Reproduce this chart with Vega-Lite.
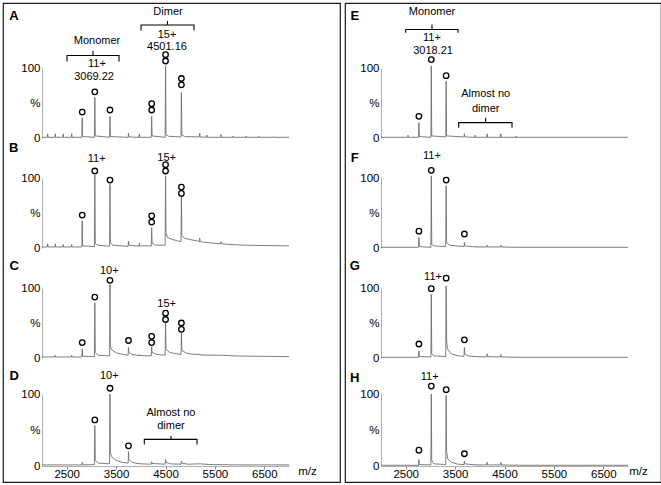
{
"$schema": "https://vega.github.io/schema/vega-lite/v6.json",
"padding": {"left": 2, "top": 2, "right": 0, "bottom": 0},
"data": {"values": [
{"p":"A","k":"s","mz":2000,"v":1},{"p":"A","k":"s","mz":2108,"v":1},{"p":"A","k":"s","mz":2115,"v":6},{"p":"A","k":"s","mz":2122,"v":1},{"p":"A","k":"s","mz":2262,"v":1},{"p":"A","k":"s","mz":2269,"v":6},{"p":"A","k":"s","mz":2276,"v":1},{"p":"A","k":"s","mz":2424,"v":1},{"p":"A","k":"s","mz":2431,"v":6},{"p":"A","k":"s","mz":2438,"v":1},{"p":"A","k":"s","mz":2594,"v":1},{"p":"A","k":"s","mz":2601,"v":6},{"p":"A","k":"s","mz":2608,"v":1},{"p":"A","k":"s","mz":2806,"v":1},{"p":"A","k":"s","mz":2814,"v":29},{"p":"A","k":"s","mz":2822,"v":2},{"p":"A","k":"s","mz":3061,"v":1},{"p":"A","k":"s","mz":3069,"v":58},{"p":"A","k":"s","mz":3078,"v":3},{"p":"A","k":"s","mz":3368,"v":1},{"p":"A","k":"s","mz":3376,"v":31},{"p":"A","k":"s","mz":3385,"v":2},{"p":"A","k":"s","mz":3744,"v":1},{"p":"A","k":"s","mz":3751,"v":7},{"p":"A","k":"s","mz":3758,"v":1.5},{"p":"A","k":"s","mz":3964,"v":1},{"p":"A","k":"s","mz":3971,"v":6},{"p":"A","k":"s","mz":3978,"v":1},{"p":"A","k":"s","mz":4212,"v":1},{"p":"A","k":"s","mz":4220,"v":31},{"p":"A","k":"s","mz":4229,"v":3},{"p":"A","k":"s","mz":4493,"v":1},{"p":"A","k":"s","mz":4501,"v":103},{"p":"A","k":"s","mz":4510,"v":5},{"p":"A","k":"s","mz":4560,"v":2.5},{"p":"A","k":"s","mz":4814,"v":1.5},{"p":"A","k":"s","mz":4822,"v":65},{"p":"A","k":"s","mz":4831,"v":4},{"p":"A","k":"s","mz":4900,"v":2},{"p":"A","k":"s","mz":5186,"v":1.5},{"p":"A","k":"s","mz":5193,"v":7},{"p":"A","k":"s","mz":5200,"v":1.5},{"p":"A","k":"s","mz":5333,"v":1},{"p":"A","k":"s","mz":5340,"v":4},{"p":"A","k":"s","mz":5347,"v":1},{"p":"A","k":"s","mz":5619,"v":1},{"p":"A","k":"s","mz":5626,"v":5},{"p":"A","k":"s","mz":5633,"v":1},{"p":"A","k":"s","mz":5859,"v":1},{"p":"A","k":"s","mz":5866,"v":3},{"p":"A","k":"s","mz":5873,"v":1},{"p":"A","k":"s","mz":6130,"v":1},{"p":"A","k":"s","mz":6137,"v":3},{"p":"A","k":"s","mz":6144,"v":1},{"p":"A","k":"s","mz":6386,"v":1},{"p":"A","k":"s","mz":6393,"v":2.5},{"p":"A","k":"s","mz":6400,"v":1},{"p":"A","k":"s","mz":6653,"v":1},{"p":"A","k":"s","mz":6660,"v":2},{"p":"A","k":"s","mz":6667,"v":1},{"p":"A","k":"s","mz":7000,"v":1},
{"p":"B","k":"s","mz":2000,"v":1.5},{"p":"B","k":"s","mz":2108,"v":1.5},{"p":"B","k":"s","mz":2115,"v":6},{"p":"B","k":"s","mz":2122,"v":1.5},{"p":"B","k":"s","mz":2262,"v":1.5},{"p":"B","k":"s","mz":2269,"v":6},{"p":"B","k":"s","mz":2276,"v":1.5},{"p":"B","k":"s","mz":2424,"v":1.5},{"p":"B","k":"s","mz":2431,"v":5},{"p":"B","k":"s","mz":2438,"v":1.5},{"p":"B","k":"s","mz":2594,"v":1.5},{"p":"B","k":"s","mz":2601,"v":5},{"p":"B","k":"s","mz":2608,"v":1.5},{"p":"B","k":"s","mz":2806,"v":1.5},{"p":"B","k":"s","mz":2814,"v":39},{"p":"B","k":"s","mz":2822,"v":3},{"p":"B","k":"s","mz":3061,"v":2},{"p":"B","k":"s","mz":3069,"v":104},{"p":"B","k":"s","mz":3078,"v":7},{"p":"B","k":"s","mz":3120,"v":4},{"p":"B","k":"s","mz":3368,"v":2.5},{"p":"B","k":"s","mz":3376,"v":91},{"p":"B","k":"s","mz":3385,"v":8},{"p":"B","k":"s","mz":3430,"v":4},{"p":"B","k":"s","mz":3744,"v":2.5},{"p":"B","k":"s","mz":3751,"v":10},{"p":"B","k":"s","mz":3758,"v":4},{"p":"B","k":"s","mz":3964,"v":2.5},{"p":"B","k":"s","mz":3971,"v":7},{"p":"B","k":"s","mz":3978,"v":3},{"p":"B","k":"s","mz":4212,"v":3},{"p":"B","k":"s","mz":4220,"v":29},{"p":"B","k":"s","mz":4229,"v":7},{"p":"B","k":"s","mz":4300,"v":4},{"p":"B","k":"s","mz":4493,"v":4},{"p":"B","k":"s","mz":4501,"v":103},{"p":"B","k":"s","mz":4510,"v":22},{"p":"B","k":"s","mz":4540,"v":15},{"p":"B","k":"s","mz":4650,"v":12},{"p":"B","k":"s","mz":4760,"v":10},{"p":"B","k":"s","mz":4814,"v":9},{"p":"B","k":"s","mz":4822,"v":74},{"p":"B","k":"s","mz":4831,"v":18},{"p":"B","k":"s","mz":4880,"v":14},{"p":"B","k":"s","mz":5000,"v":12},{"p":"B","k":"s","mz":5150,"v":10},{"p":"B","k":"s","mz":5186,"v":9},{"p":"B","k":"s","mz":5193,"v":14},{"p":"B","k":"s","mz":5200,"v":9},{"p":"B","k":"s","mz":5300,"v":8},{"p":"B","k":"s","mz":5450,"v":7},{"p":"B","k":"s","mz":5619,"v":6},{"p":"B","k":"s","mz":5626,"v":9},{"p":"B","k":"s","mz":5633,"v":6},{"p":"B","k":"s","mz":5800,"v":5},{"p":"B","k":"s","mz":6100,"v":4},{"p":"B","k":"s","mz":6500,"v":3.5},{"p":"B","k":"s","mz":7000,"v":3},
{"p":"C","k":"s","mz":2000,"v":1.5},{"p":"C","k":"s","mz":2262,"v":1.5},{"p":"C","k":"s","mz":2269,"v":4},{"p":"C","k":"s","mz":2276,"v":1.5},{"p":"C","k":"s","mz":2594,"v":1.5},{"p":"C","k":"s","mz":2601,"v":4},{"p":"C","k":"s","mz":2608,"v":1.5},{"p":"C","k":"s","mz":2806,"v":1.5},{"p":"C","k":"s","mz":2814,"v":13},{"p":"C","k":"s","mz":2822,"v":2.5},{"p":"C","k":"s","mz":3061,"v":2},{"p":"C","k":"s","mz":3069,"v":79},{"p":"C","k":"s","mz":3078,"v":8},{"p":"C","k":"s","mz":3130,"v":4},{"p":"C","k":"s","mz":3368,"v":3},{"p":"C","k":"s","mz":3376,"v":105},{"p":"C","k":"s","mz":3385,"v":16},{"p":"C","k":"s","mz":3420,"v":11},{"p":"C","k":"s","mz":3520,"v":7},{"p":"C","k":"s","mz":3650,"v":5},{"p":"C","k":"s","mz":3744,"v":4},{"p":"C","k":"s","mz":3751,"v":15},{"p":"C","k":"s","mz":3758,"v":8},{"p":"C","k":"s","mz":3820,"v":5},{"p":"C","k":"s","mz":3964,"v":3.5},{"p":"C","k":"s","mz":3971,"v":5},{"p":"C","k":"s","mz":3978,"v":3.5},{"p":"C","k":"s","mz":4212,"v":3},{"p":"C","k":"s","mz":4220,"v":16},{"p":"C","k":"s","mz":4229,"v":8},{"p":"C","k":"s","mz":4320,"v":5},{"p":"C","k":"s","mz":4493,"v":4},{"p":"C","k":"s","mz":4501,"v":50},{"p":"C","k":"s","mz":4510,"v":13},{"p":"C","k":"s","mz":4580,"v":8},{"p":"C","k":"s","mz":4720,"v":6},{"p":"C","k":"s","mz":4814,"v":5},{"p":"C","k":"s","mz":4822,"v":36},{"p":"C","k":"s","mz":4831,"v":11},{"p":"C","k":"s","mz":4920,"v":7},{"p":"C","k":"s","mz":5050,"v":5.5},{"p":"C","k":"s","mz":5186,"v":5},{"p":"C","k":"s","mz":5193,"v":6},{"p":"C","k":"s","mz":5200,"v":4.5},{"p":"C","k":"s","mz":5400,"v":4},{"p":"C","k":"s","mz":5626,"v":4},{"p":"C","k":"s","mz":5900,"v":3},{"p":"C","k":"s","mz":6300,"v":2.5},{"p":"C","k":"s","mz":7000,"v":2},
{"p":"D","k":"s","mz":2000,"v":1.5},{"p":"D","k":"s","mz":2806,"v":1.5},{"p":"D","k":"s","mz":2814,"v":5},{"p":"D","k":"s","mz":2822,"v":1.5},{"p":"D","k":"s","mz":3061,"v":2},{"p":"D","k":"s","mz":3069,"v":56},{"p":"D","k":"s","mz":3078,"v":8},{"p":"D","k":"s","mz":3140,"v":4},{"p":"D","k":"s","mz":3368,"v":3},{"p":"D","k":"s","mz":3376,"v":100},{"p":"D","k":"s","mz":3385,"v":18},{"p":"D","k":"s","mz":3420,"v":12},{"p":"D","k":"s","mz":3500,"v":8},{"p":"D","k":"s","mz":3620,"v":5},{"p":"D","k":"s","mz":3744,"v":4},{"p":"D","k":"s","mz":3751,"v":20},{"p":"D","k":"s","mz":3758,"v":9},{"p":"D","k":"s","mz":3830,"v":5},{"p":"D","k":"s","mz":3964,"v":3},{"p":"D","k":"s","mz":3971,"v":4},{"p":"D","k":"s","mz":3978,"v":3},{"p":"D","k":"s","mz":4212,"v":2.5},{"p":"D","k":"s","mz":4220,"v":6},{"p":"D","k":"s","mz":4229,"v":3.5},{"p":"D","k":"s","mz":4493,"v":2.5},{"p":"D","k":"s","mz":4501,"v":9},{"p":"D","k":"s","mz":4510,"v":5},{"p":"D","k":"s","mz":4600,"v":3},{"p":"D","k":"s","mz":4814,"v":2.5},{"p":"D","k":"s","mz":4822,"v":7},{"p":"D","k":"s","mz":4831,"v":4},{"p":"D","k":"s","mz":4950,"v":2.5},{"p":"D","k":"s","mz":5193,"v":3},{"p":"D","k":"s","mz":5400,"v":2},{"p":"D","k":"s","mz":6000,"v":1.5},{"p":"D","k":"s","mz":7000,"v":1.5},
{"p":"E","k":"s","mz":2000,"v":1},{"p":"E","k":"s","mz":2540,"v":1},{"p":"E","k":"s","mz":2547,"v":4},{"p":"E","k":"s","mz":2554,"v":1},{"p":"E","k":"s","mz":2759,"v":1},{"p":"E","k":"s","mz":2767,"v":22},{"p":"E","k":"s","mz":2775,"v":2},{"p":"E","k":"s","mz":3010,"v":1},{"p":"E","k":"s","mz":3018,"v":103},{"p":"E","k":"s","mz":3027,"v":3},{"p":"E","k":"s","mz":3311,"v":1.5},{"p":"E","k":"s","mz":3319,"v":81},{"p":"E","k":"s","mz":3328,"v":3},{"p":"E","k":"s","mz":3681,"v":1.5},{"p":"E","k":"s","mz":3688,"v":6},{"p":"E","k":"s","mz":3695,"v":1.5},{"p":"E","k":"s","mz":3898,"v":1},{"p":"E","k":"s","mz":3905,"v":4},{"p":"E","k":"s","mz":3912,"v":1},{"p":"E","k":"s","mz":4142,"v":1},{"p":"E","k":"s","mz":4149,"v":6},{"p":"E","k":"s","mz":4156,"v":1},{"p":"E","k":"s","mz":4419,"v":1},{"p":"E","k":"s","mz":4426,"v":6},{"p":"E","k":"s","mz":4433,"v":1},{"p":"E","k":"s","mz":4735,"v":1},{"p":"E","k":"s","mz":4742,"v":3},{"p":"E","k":"s","mz":4749,"v":1},{"p":"E","k":"s","mz":7000,"v":1},
{"p":"F","k":"s","mz":2000,"v":1},{"p":"F","k":"s","mz":2759,"v":1},{"p":"F","k":"s","mz":2767,"v":15},{"p":"F","k":"s","mz":2775,"v":2},{"p":"F","k":"s","mz":3010,"v":1},{"p":"F","k":"s","mz":3018,"v":103},{"p":"F","k":"s","mz":3027,"v":5},{"p":"F","k":"s","mz":3070,"v":3},{"p":"F","k":"s","mz":3311,"v":2},{"p":"F","k":"s","mz":3319,"v":89},{"p":"F","k":"s","mz":3328,"v":8},{"p":"F","k":"s","mz":3380,"v":4},{"p":"F","k":"s","mz":3681,"v":2},{"p":"F","k":"s","mz":3688,"v":8},{"p":"F","k":"s","mz":3695,"v":3},{"p":"F","k":"s","mz":3898,"v":1.5},{"p":"F","k":"s","mz":3905,"v":3},{"p":"F","k":"s","mz":3912,"v":1.5},{"p":"F","k":"s","mz":4142,"v":1.5},{"p":"F","k":"s","mz":4149,"v":4},{"p":"F","k":"s","mz":4156,"v":1.5},{"p":"F","k":"s","mz":4419,"v":1.5},{"p":"F","k":"s","mz":4426,"v":4},{"p":"F","k":"s","mz":4433,"v":1.5},{"p":"F","k":"s","mz":4735,"v":1},{"p":"F","k":"s","mz":4742,"v":2},{"p":"F","k":"s","mz":4749,"v":1},{"p":"F","k":"s","mz":7000,"v":1},
{"p":"G","k":"s","mz":2000,"v":1},{"p":"G","k":"s","mz":2759,"v":1},{"p":"G","k":"s","mz":2767,"v":10},{"p":"G","k":"s","mz":2775,"v":2},{"p":"G","k":"s","mz":3010,"v":1.5},{"p":"G","k":"s","mz":3018,"v":91},{"p":"G","k":"s","mz":3027,"v":6},{"p":"G","k":"s","mz":3070,"v":3},{"p":"G","k":"s","mz":3311,"v":2},{"p":"G","k":"s","mz":3319,"v":103},{"p":"G","k":"s","mz":3328,"v":26},{"p":"G","k":"s","mz":3345,"v":13},{"p":"G","k":"s","mz":3420,"v":6},{"p":"G","k":"s","mz":3560,"v":3},{"p":"G","k":"s","mz":3681,"v":2.5},{"p":"G","k":"s","mz":3688,"v":15},{"p":"G","k":"s","mz":3695,"v":6},{"p":"G","k":"s","mz":3760,"v":3},{"p":"G","k":"s","mz":3898,"v":2},{"p":"G","k":"s","mz":3905,"v":3},{"p":"G","k":"s","mz":3912,"v":2},{"p":"G","k":"s","mz":4142,"v":1.5},{"p":"G","k":"s","mz":4149,"v":6},{"p":"G","k":"s","mz":4156,"v":2},{"p":"G","k":"s","mz":4419,"v":1.5},{"p":"G","k":"s","mz":4426,"v":5},{"p":"G","k":"s","mz":4433,"v":1.5},{"p":"G","k":"s","mz":4735,"v":1},{"p":"G","k":"s","mz":4742,"v":2},{"p":"G","k":"s","mz":4749,"v":1},{"p":"G","k":"s","mz":7000,"v":1},
{"p":"H","k":"s","mz":2000,"v":1},{"p":"H","k":"s","mz":2759,"v":1},{"p":"H","k":"s","mz":2767,"v":9},{"p":"H","k":"s","mz":2775,"v":2},{"p":"H","k":"s","mz":3010,"v":1.5},{"p":"H","k":"s","mz":3018,"v":100},{"p":"H","k":"s","mz":3027,"v":8},{"p":"H","k":"s","mz":3070,"v":3},{"p":"H","k":"s","mz":3311,"v":2},{"p":"H","k":"s","mz":3319,"v":98},{"p":"H","k":"s","mz":3328,"v":20},{"p":"H","k":"s","mz":3350,"v":10},{"p":"H","k":"s","mz":3430,"v":5},{"p":"H","k":"s","mz":3560,"v":2.5},{"p":"H","k":"s","mz":3681,"v":2},{"p":"H","k":"s","mz":3688,"v":7},{"p":"H","k":"s","mz":3695,"v":3},{"p":"H","k":"s","mz":3898,"v":1.5},{"p":"H","k":"s","mz":3905,"v":2.5},{"p":"H","k":"s","mz":3912,"v":1.5},{"p":"H","k":"s","mz":4142,"v":1.5},{"p":"H","k":"s","mz":4149,"v":5},{"p":"H","k":"s","mz":4156,"v":1.5},{"p":"H","k":"s","mz":4419,"v":1.5},{"p":"H","k":"s","mz":4426,"v":5},{"p":"H","k":"s","mz":4433,"v":1.5},{"p":"H","k":"s","mz":4735,"v":1},{"p":"H","k":"s","mz":4742,"v":2},{"p":"H","k":"s","mz":4749,"v":1},{"p":"H","k":"s","mz":7000,"v":1},
{"p":"A","k":"c","mz":2814,"v":37},{"p":"A","k":"c","mz":3069,"v":66},{"p":"A","k":"c","mz":3376,"v":40},{"p":"A","k":"c","mz":4220,"v":49},{"p":"A","k":"c","mz":4220,"v":40},{"p":"A","k":"c","mz":4501,"v":119},{"p":"A","k":"c","mz":4501,"v":110},{"p":"A","k":"c","mz":4822,"v":85},{"p":"A","k":"c","mz":4822,"v":76},
{"p":"B","k":"c","mz":2814,"v":47},{"p":"B","k":"c","mz":3069,"v":110},{"p":"B","k":"c","mz":3376,"v":97},{"p":"B","k":"c","mz":4220,"v":46},{"p":"B","k":"c","mz":4220,"v":37},{"p":"B","k":"c","mz":4501,"v":119},{"p":"B","k":"c","mz":4501,"v":110},{"p":"B","k":"c","mz":4822,"v":87},{"p":"B","k":"c","mz":4822,"v":78},
{"p":"C","k":"c","mz":2814,"v":22},{"p":"C","k":"c","mz":3069,"v":87},{"p":"C","k":"c","mz":3376,"v":111},{"p":"C","k":"c","mz":3751,"v":25},{"p":"C","k":"c","mz":4220,"v":31},{"p":"C","k":"c","mz":4220,"v":22},{"p":"C","k":"c","mz":4501,"v":64},{"p":"C","k":"c","mz":4501,"v":55},{"p":"C","k":"c","mz":4822,"v":50},{"p":"C","k":"c","mz":4822,"v":41},
{"p":"D","k":"c","mz":3069,"v":64},{"p":"D","k":"c","mz":3376,"v":108},{"p":"D","k":"c","mz":3751,"v":28},
{"p":"E","k":"c","mz":2767,"v":31},{"p":"E","k":"c","mz":3018,"v":112},{"p":"E","k":"c","mz":3319,"v":89},
{"p":"F","k":"c","mz":2767,"v":24},{"p":"F","k":"c","mz":3018,"v":111},{"p":"F","k":"c","mz":3319,"v":97},{"p":"F","k":"c","mz":3688,"v":20},
{"p":"G","k":"c","mz":2767,"v":20},{"p":"G","k":"c","mz":3018,"v":99},{"p":"G","k":"c","mz":3319,"v":114},{"p":"G","k":"c","mz":3688,"v":26},
{"p":"H","k":"c","mz":2767,"v":22},{"p":"H","k":"c","mz":3018,"v":111},{"p":"H","k":"c","mz":3319,"v":106},{"p":"H","k":"c","mz":3688,"v":17},
{"p":"A","k":"t","mz":3113,"v":138.6,"t":"Monomer"},{"p":"A","k":"t","mz":3113,"v":105.7,"t":"11+"},{"p":"A","k":"t","mz":3053,"v":87,"t":"3069.22"},{"p":"A","k":"t","mz":4551,"v":180,"t":"Dimer"},{"p":"A","k":"t","mz":4530,"v":147,"t":"15+"},{"p":"A","k":"t","mz":4530,"v":129.5,"t":"4501.16"},
{"p":"B","k":"t","mz":3107,"v":126.7,"t":"11+"},{"p":"B","k":"t","mz":4524,"v":129,"t":"15+"},
{"p":"C","k":"t","mz":3363,"v":124.3,"t":"10+"},{"p":"C","k":"t","mz":4524,"v":76.7,"t":"15+"},
{"p":"D","k":"t","mz":3363,"v":125,"t":"10+"},{"p":"D","k":"t","mz":4611,"v":74,"t":"Almost no"},{"p":"D","k":"t","mz":4611,"v":55.6,"t":"dimer"},
{"p":"E","k":"t","mz":3032,"v":180,"t":"Monomer"},{"p":"E","k":"t","mz":3032,"v":143.3,"t":"11+"},{"p":"E","k":"t","mz":3053,"v":124.3,"t":"3018.21"},{"p":"E","k":"t","mz":4119,"v":62.4,"t":"Almost no"},{"p":"E","k":"t","mz":4119,"v":41,"t":"dimer"},
{"p":"F","k":"t","mz":3032,"v":131,"t":"11+"},
{"p":"G","k":"t","mz":3053,"v":115.7,"t":"11+"},
{"p":"H","k":"t","mz":2986,"v":123.6,"t":"11+"},
{"p":"A","k":"l","mz":1433,"v":174,"t":"A"},{"p":"B","k":"l","mz":1427,"v":143,"t":"B"},{"p":"C","k":"l","mz":1439,"v":131,"t":"C"},{"p":"D","k":"l","mz":1439,"v":125,"t":"D"},
{"p":"E","k":"l","mz":1468,"v":174,"t":"E"},{"p":"F","k":"l","mz":1468,"v":129,"t":"F"},{"p":"G","k":"l","mz":1468,"v":131,"t":"G"},{"p":"H","k":"l","mz":1468,"v":122,"t":"H"},
{"p":"A","k":"b","id":"m","seq":1,"mz":2506,"v":109.3},{"p":"A","k":"b","id":"m","seq":2,"mz":2506,"v":117.9},{"p":"A","k":"b","id":"m","seq":3,"mz":3032,"v":117.9},{"p":"A","k":"b","id":"m","seq":4,"mz":3032,"v":124.3},{"p":"A","k":"b","id":"m","seq":5,"mz":3032,"v":117.9},{"p":"A","k":"b","id":"m","seq":6,"mz":3559,"v":117.9},{"p":"A","k":"b","id":"m","seq":7,"mz":3559,"v":109.3},
{"p":"A","k":"b","id":"d","seq":1,"mz":4004,"v":153.6},{"p":"A","k":"b","id":"d","seq":2,"mz":4004,"v":161.4},{"p":"A","k":"b","id":"d","seq":3,"mz":4540,"v":161.4},{"p":"A","k":"b","id":"d","seq":4,"mz":4540,"v":167},{"p":"A","k":"b","id":"d","seq":5,"mz":4540,"v":161.4},{"p":"A","k":"b","id":"d","seq":6,"mz":5077,"v":161.4},{"p":"A","k":"b","id":"d","seq":7,"mz":5077,"v":153.6},
{"p":"D","k":"b","id":"n","seq":1,"mz":4071,"v":30},{"p":"D","k":"b","id":"n","seq":2,"mz":4071,"v":37},{"p":"D","k":"b","id":"n","seq":3,"mz":4611,"v":37},{"p":"D","k":"b","id":"n","seq":4,"mz":4611,"v":41.7},{"p":"D","k":"b","id":"n","seq":5,"mz":4611,"v":37},{"p":"D","k":"b","id":"n","seq":6,"mz":5138,"v":37},{"p":"D","k":"b","id":"n","seq":7,"mz":5138,"v":30},
{"p":"E","k":"b","id":"m","seq":1,"mz":2500,"v":150.4},{"p":"E","k":"b","id":"m","seq":2,"mz":2500,"v":155},{"p":"E","k":"b","id":"m","seq":3,"mz":3032,"v":155},{"p":"E","k":"b","id":"m","seq":4,"mz":3032,"v":162},{"p":"E","k":"b","id":"m","seq":5,"mz":3032,"v":155},{"p":"E","k":"b","id":"m","seq":6,"mz":3559,"v":155},{"p":"E","k":"b","id":"m","seq":7,"mz":3559,"v":150.4},
{"p":"E","k":"b","id":"n","seq":1,"mz":3573,"v":14.7},{"p":"E","k":"b","id":"n","seq":2,"mz":3573,"v":21.9},{"p":"E","k":"b","id":"n","seq":3,"mz":4119,"v":21.9},{"p":"E","k":"b","id":"n","seq":4,"mz":4119,"v":29},{"p":"E","k":"b","id":"n","seq":5,"mz":4119,"v":21.9},{"p":"E","k":"b","id":"n","seq":6,"mz":4652,"v":21.9},{"p":"E","k":"b","id":"n","seq":7,"mz":4652,"v":14.7}
]},
"hconcat": [
{
 "width": 337, "height": 479,
 "encoding": {"x": {"field": "mz", "type": "quantitative", "scale": {"domain": [2000, 7000], "range": [39, 286], "nice": false, "zero": false}, "axis": {"orient": "bottom", "offset": -16, "values": [2500, 3500, 4500, 5500, 6500], "format": "d", "title": "m/z", "titleX": 304, "titleY": 5, "titleAlign": "center", "titleBaseline": "middle", "tickSize": 3, "labelPadding": -1}}},
 "resolve": {"scale": {"y": "independent"}, "axis": {"y": "independent"}},
 "layer": [
  {"transform": [{"filter": "datum.p == 'A'"}],
   "encoding": {"y": {"field": "v", "type": "quantitative", "scale": {"domain": [0, 100], "range": [135, 65], "nice": false, "zero": false}, "axis": {"orient": "left", "offset": -39, "values": [0, 50, 100], "labelExpr": "datum.value == 50 ? '%' : datum.label", "ticks": false, "labelPadding": 2, "title": null}}},
   "layer": [
    {"transform": [{"filter": "datum.k == 's'"}], "mark": {"type": "line", "color": "#6e6e6e", "strokeWidth": 0.9}, "encoding": {}},
    {"transform": [{"filter": "datum.k == 'c'"}], "mark": {"type": "point", "shape": "circle", "filled": false, "size": 30, "stroke": "#000", "strokeWidth": 1.3, "opacity": 1}},
    {"transform": [{"filter": "datum.k == 't'"}], "mark": {"type": "text", "fontSize": 11, "align": "center", "baseline": "middle"}, "encoding": {"text": {"field": "t", "type": "nominal"}}},
    {"transform": [{"filter": "datum.k == 'l'"}], "mark": {"type": "text", "fontSize": 13, "fontWeight": "bold", "align": "center", "baseline": "middle"}, "encoding": {"text": {"field": "t", "type": "nominal"}}},
    {"transform": [{"filter": "datum.k == 'b'"}], "mark": {"type": "line", "color": "#000", "strokeWidth": 1.1}, "encoding": {"detail": {"field": "id", "type": "nominal"}, "order": {"field": "seq", "type": "quantitative"}}}
   ]},
  {"transform": [{"filter": "datum.p == 'B'"}],
   "encoding": {"y": {"field": "v", "type": "quantitative", "scale": {"domain": [0, 100], "range": [245, 175], "nice": false, "zero": false}, "axis": {"orient": "left", "offset": -39, "values": [0, 50, 100], "labelExpr": "datum.value == 50 ? '%' : datum.label", "ticks": false, "labelPadding": 2, "title": null}}},
   "layer": [
    {"transform": [{"filter": "datum.k == 's'"}], "mark": {"type": "line", "color": "#6e6e6e", "strokeWidth": 0.9}, "encoding": {}},
    {"transform": [{"filter": "datum.k == 'c'"}], "mark": {"type": "point", "shape": "circle", "filled": false, "size": 30, "stroke": "#000", "strokeWidth": 1.3, "opacity": 1}},
    {"transform": [{"filter": "datum.k == 't'"}], "mark": {"type": "text", "fontSize": 11, "align": "center", "baseline": "middle"}, "encoding": {"text": {"field": "t", "type": "nominal"}}},
    {"transform": [{"filter": "datum.k == 'l'"}], "mark": {"type": "text", "fontSize": 13, "fontWeight": "bold", "align": "center", "baseline": "middle"}, "encoding": {"text": {"field": "t", "type": "nominal"}}}
   ]},
  {"transform": [{"filter": "datum.p == 'C'"}],
   "encoding": {"y": {"field": "v", "type": "quantitative", "scale": {"domain": [0, 100], "range": [355, 285], "nice": false, "zero": false}, "axis": {"orient": "left", "offset": -39, "values": [0, 50, 100], "labelExpr": "datum.value == 50 ? '%' : datum.label", "ticks": false, "labelPadding": 2, "title": null}}},
   "layer": [
    {"transform": [{"filter": "datum.k == 's'"}], "mark": {"type": "line", "color": "#6e6e6e", "strokeWidth": 0.9}, "encoding": {}},
    {"transform": [{"filter": "datum.k == 'c'"}], "mark": {"type": "point", "shape": "circle", "filled": false, "size": 30, "stroke": "#000", "strokeWidth": 1.3, "opacity": 1}},
    {"transform": [{"filter": "datum.k == 't'"}], "mark": {"type": "text", "fontSize": 11, "align": "center", "baseline": "middle"}, "encoding": {"text": {"field": "t", "type": "nominal"}}},
    {"transform": [{"filter": "datum.k == 'l'"}], "mark": {"type": "text", "fontSize": 13, "fontWeight": "bold", "align": "center", "baseline": "middle"}, "encoding": {"text": {"field": "t", "type": "nominal"}}}
   ]},
  {"transform": [{"filter": "datum.p == 'D'"}],
   "encoding": {"y": {"field": "v", "type": "quantitative", "scale": {"domain": [0, 100], "range": [463, 391], "nice": false, "zero": false}, "axis": {"orient": "left", "offset": -39, "values": [0, 50, 100], "labelExpr": "datum.value == 50 ? '%' : datum.label", "ticks": false, "labelPadding": 2, "title": null}}},
   "layer": [
    {"transform": [{"filter": "datum.k == 's'"}], "mark": {"type": "line", "color": "#6e6e6e", "strokeWidth": 0.9}, "encoding": {}},
    {"transform": [{"filter": "datum.k == 'c'"}], "mark": {"type": "point", "shape": "circle", "filled": false, "size": 30, "stroke": "#000", "strokeWidth": 1.3, "opacity": 1}},
    {"transform": [{"filter": "datum.k == 't'"}], "mark": {"type": "text", "fontSize": 11, "align": "center", "baseline": "middle"}, "encoding": {"text": {"field": "t", "type": "nominal"}}},
    {"transform": [{"filter": "datum.k == 'l'"}], "mark": {"type": "text", "fontSize": 13, "fontWeight": "bold", "align": "center", "baseline": "middle"}, "encoding": {"text": {"field": "t", "type": "nominal"}}},
    {"transform": [{"filter": "datum.k == 'b'"}], "mark": {"type": "line", "color": "#000", "strokeWidth": 1.1}, "encoding": {"detail": {"field": "id", "type": "nominal"}, "order": {"field": "seq", "type": "quantitative"}}}
   ]}
 ]
},
{
 "width": 316, "height": 479,
 "encoding": {"x": {"field": "mz", "type": "quantitative", "scale": {"domain": [2000, 7000], "range": [36, 283], "nice": false, "zero": false}, "axis": {"orient": "bottom", "offset": -16, "values": [2500, 3500, 4500, 5500, 6500], "format": "d", "title": "m/z", "titleX": 293, "titleY": 5, "titleAlign": "center", "titleBaseline": "middle", "tickSize": 3, "labelPadding": -1}}},
 "resolve": {"scale": {"y": "independent"}, "axis": {"y": "independent"}},
 "layer": [
  {"transform": [{"filter": "datum.p == 'E'"}],
   "encoding": {"y": {"field": "v", "type": "quantitative", "scale": {"domain": [0, 100], "range": [135, 65], "nice": false, "zero": false}, "axis": {"orient": "left", "offset": -36, "values": [0, 50, 100], "labelExpr": "datum.value == 50 ? '%' : datum.label", "ticks": false, "labelPadding": 2, "title": null}}},
   "layer": [
    {"transform": [{"filter": "datum.k == 's'"}], "mark": {"type": "line", "color": "#6e6e6e", "strokeWidth": 0.9}, "encoding": {}},
    {"transform": [{"filter": "datum.k == 'c'"}], "mark": {"type": "point", "shape": "circle", "filled": false, "size": 30, "stroke": "#000", "strokeWidth": 1.3, "opacity": 1}},
    {"transform": [{"filter": "datum.k == 't'"}], "mark": {"type": "text", "fontSize": 11, "align": "center", "baseline": "middle"}, "encoding": {"text": {"field": "t", "type": "nominal"}}},
    {"transform": [{"filter": "datum.k == 'l'"}], "mark": {"type": "text", "fontSize": 13, "fontWeight": "bold", "align": "center", "baseline": "middle"}, "encoding": {"text": {"field": "t", "type": "nominal"}}},
    {"transform": [{"filter": "datum.k == 'b'"}], "mark": {"type": "line", "color": "#000", "strokeWidth": 1.1}, "encoding": {"detail": {"field": "id", "type": "nominal"}, "order": {"field": "seq", "type": "quantitative"}}}
   ]},
  {"transform": [{"filter": "datum.p == 'F'"}],
   "encoding": {"y": {"field": "v", "type": "quantitative", "scale": {"domain": [0, 100], "range": [245, 175], "nice": false, "zero": false}, "axis": {"orient": "left", "offset": -36, "values": [0, 50, 100], "labelExpr": "datum.value == 50 ? '%' : datum.label", "ticks": false, "labelPadding": 2, "title": null}}},
   "layer": [
    {"transform": [{"filter": "datum.k == 's'"}], "mark": {"type": "line", "color": "#6e6e6e", "strokeWidth": 0.9}, "encoding": {}},
    {"transform": [{"filter": "datum.k == 'c'"}], "mark": {"type": "point", "shape": "circle", "filled": false, "size": 30, "stroke": "#000", "strokeWidth": 1.3, "opacity": 1}},
    {"transform": [{"filter": "datum.k == 't'"}], "mark": {"type": "text", "fontSize": 11, "align": "center", "baseline": "middle"}, "encoding": {"text": {"field": "t", "type": "nominal"}}},
    {"transform": [{"filter": "datum.k == 'l'"}], "mark": {"type": "text", "fontSize": 13, "fontWeight": "bold", "align": "center", "baseline": "middle"}, "encoding": {"text": {"field": "t", "type": "nominal"}}}
   ]},
  {"transform": [{"filter": "datum.p == 'G'"}],
   "encoding": {"y": {"field": "v", "type": "quantitative", "scale": {"domain": [0, 100], "range": [355, 285], "nice": false, "zero": false}, "axis": {"orient": "left", "offset": -36, "values": [0, 50, 100], "labelExpr": "datum.value == 50 ? '%' : datum.label", "ticks": false, "labelPadding": 2, "title": null}}},
   "layer": [
    {"transform": [{"filter": "datum.k == 's'"}], "mark": {"type": "line", "color": "#6e6e6e", "strokeWidth": 0.9}, "encoding": {}},
    {"transform": [{"filter": "datum.k == 'c'"}], "mark": {"type": "point", "shape": "circle", "filled": false, "size": 30, "stroke": "#000", "strokeWidth": 1.3, "opacity": 1}},
    {"transform": [{"filter": "datum.k == 't'"}], "mark": {"type": "text", "fontSize": 11, "align": "center", "baseline": "middle"}, "encoding": {"text": {"field": "t", "type": "nominal"}}},
    {"transform": [{"filter": "datum.k == 'l'"}], "mark": {"type": "text", "fontSize": 13, "fontWeight": "bold", "align": "center", "baseline": "middle"}, "encoding": {"text": {"field": "t", "type": "nominal"}}}
   ]},
  {"transform": [{"filter": "datum.p == 'H'"}],
   "encoding": {"y": {"field": "v", "type": "quantitative", "scale": {"domain": [0, 100], "range": [463, 391], "nice": false, "zero": false}, "axis": {"orient": "left", "offset": -36, "values": [0, 50, 100], "labelExpr": "datum.value == 50 ? '%' : datum.label", "ticks": false, "labelPadding": 2, "title": null}}},
   "layer": [
    {"transform": [{"filter": "datum.k == 's'"}], "mark": {"type": "line", "color": "#6e6e6e", "strokeWidth": 0.9}, "encoding": {}},
    {"transform": [{"filter": "datum.k == 'c'"}], "mark": {"type": "point", "shape": "circle", "filled": false, "size": 30, "stroke": "#000", "strokeWidth": 1.3, "opacity": 1}},
    {"transform": [{"filter": "datum.k == 't'"}], "mark": {"type": "text", "fontSize": 11, "align": "center", "baseline": "middle"}, "encoding": {"text": {"field": "t", "type": "nominal"}}},
    {"transform": [{"filter": "datum.k == 'l'"}], "mark": {"type": "text", "fontSize": 13, "fontWeight": "bold", "align": "center", "baseline": "middle"}, "encoding": {"text": {"field": "t", "type": "nominal"}}}
   ]}
 ]
}
],
"config": {
 "view": {"stroke": "#1a1a1a", "strokeWidth": 1.2},
 "concat": {"spacing": 3},
 "font": "Liberation Sans",
 "text": {"font": "Liberation Sans", "color": "#000"},
 "axis": {"grid": false, "labelFont": "Liberation Sans", "titleFont": "Liberation Sans", "labelFontSize": 11.5, "titleFontSize": 11.5, "titleFontWeight": "normal", "labelColor": "#000", "titleColor": "#000", "domainColor": "#b0b0b0", "tickColor": "#888"}
}
}
